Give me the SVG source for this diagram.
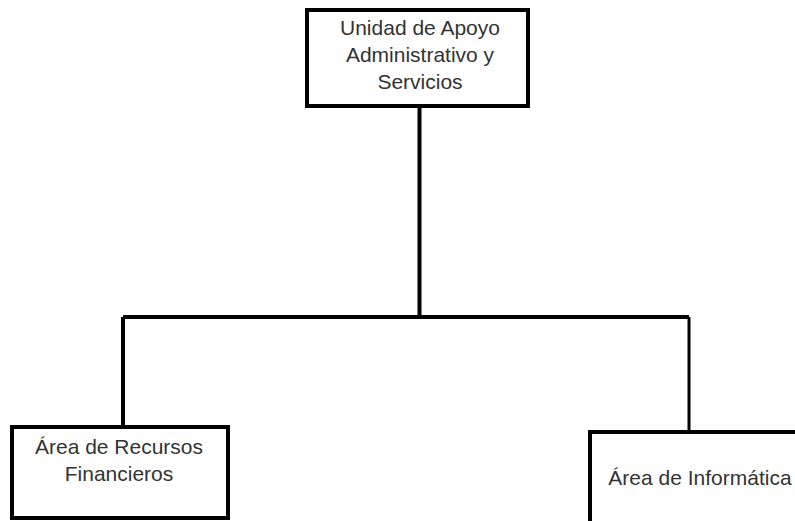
<svg xmlns="http://www.w3.org/2000/svg" width="795" height="521" viewBox="0 0 795 521">
<style>
.box{fill:#fff;stroke:#000;stroke-width:4}
.ln{fill:none;stroke:#000;stroke-width:4}
.t{font-family:"Liberation Sans",Arial,sans-serif;font-size:21px;fill:#333;text-anchor:middle}
</style>
<rect width="795" height="521" fill="#fff"/>
<g id="connectors">
<path class="ln" d="M419.5 106V317"/>
<path class="ln" d="M123 317H689"/>
<path class="ln" d="M123 317V427"/>
<path class="ln" d="M689 317V432" style="stroke-width:3"/>
</g>
<g id="n1">
<rect class="box" x="307" y="10" width="221" height="96"/>
<text class="t" x="420" y="35">Unidad de Apoyo</text>
<text class="t" x="420" y="62">Administrativo y</text>
<text class="t" x="420" y="89">Servicios</text>
</g>
<g id="n2">
<rect class="box" x="12" y="427" width="216" height="91"/>
<text class="t" x="119" y="454">Área de Recursos</text>
<text class="t" x="119" y="481">Financieros</text>
</g>
<g id="n3">
<rect class="box" x="590" y="432" width="220" height="100"/>
<text class="t" x="700" y="485">Área de Informática</text>
</g>
</svg>
